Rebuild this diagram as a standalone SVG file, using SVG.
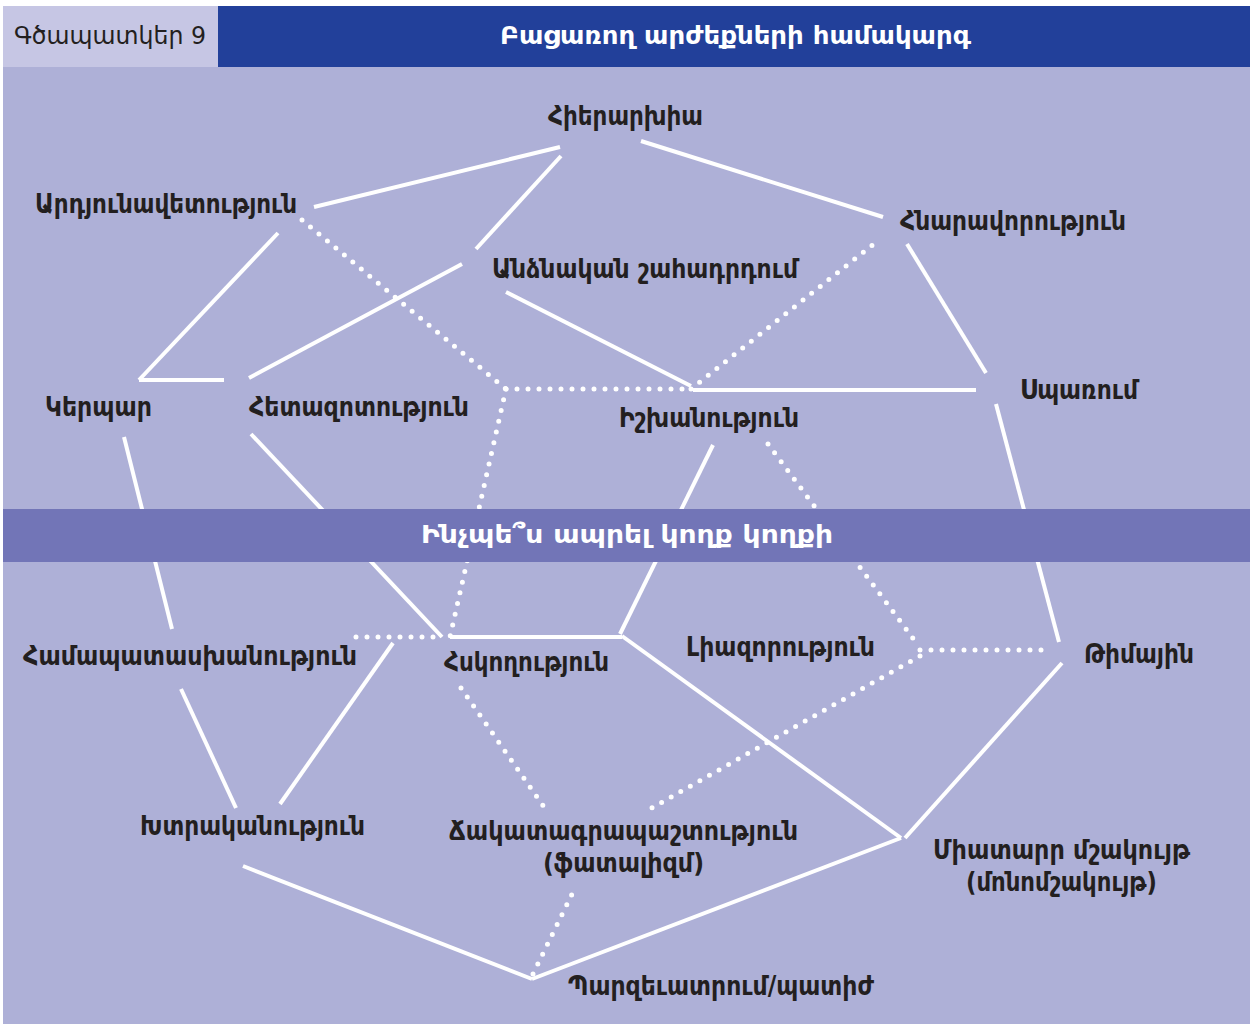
<svg xmlns="http://www.w3.org/2000/svg" width="1250" height="1026" viewBox="0 0 1250 1026">
<style>
.s{stroke:#fff;stroke-width:4;fill:none}
.d{stroke:#fff;stroke-width:5;fill:none;stroke-linecap:round;stroke-dasharray:0 11}
.t{font-family:"DejaVu Sans Condensed","DejaVu Sans",sans-serif;font-weight:bold;font-size:26px;fill:#231F20}
.w{font-family:"DejaVu Sans Condensed","DejaVu Sans",sans-serif;font-weight:bold;font-size:25px;fill:#fff}
</style>
<rect x="0" y="0" width="1250" height="1026" fill="#fff"/>
<rect x="3" y="6" width="1247" height="1018" fill="#AEB0D7"/>
<g id="connectors">
<line class="s" x1="314" y1="207" x2="560" y2="147"/>
<line class="s" x1="561" y1="156" x2="476" y2="249"/>
<line class="s" x1="278" y1="233" x2="139" y2="380"/>
<line class="s" x1="139" y1="380" x2="224" y2="380"/>
<line class="s" x1="249" y1="378" x2="462" y2="264"/>
<line class="s" x1="506" y1="292" x2="691" y2="386"/>
<line class="d" x1="302" y1="220" x2="506" y2="389"/>
<line class="d" x1="506" y1="389" x2="691" y2="389"/>
<line class="s" x1="693" y1="390" x2="976" y2="390"/>
<line class="d" x1="691" y1="389" x2="880" y2="239"/>
<line class="s" x1="641" y1="141" x2="883" y2="217"/>
<line class="s" x1="907" y1="244" x2="986" y2="373"/>
<line class="s" x1="996" y1="404" x2="1059" y2="642"/>
<line class="d" x1="920" y1="650" x2="1048" y2="650"/>
<line class="d" x1="768" y1="444" x2="918" y2="645"/>
<line class="d" x1="920" y1="656" x2="650" y2="809"/>
<line class="s" x1="1062" y1="663" x2="905" y2="838"/>
<line class="s" x1="622" y1="636" x2="901" y2="838"/>
<line class="s" x1="901" y1="838" x2="532" y2="979"/>
<line class="s" x1="243" y1="866" x2="532" y2="979"/>
<line class="d" x1="533" y1="974" x2="575" y2="888"/>
<line class="d" x1="461" y1="688" x2="544" y2="807"/>
<line class="s" x1="450" y1="637" x2="622" y2="637"/>
<line class="d" x1="356" y1="637" x2="443" y2="637"/>
<line class="s" x1="251" y1="434" x2="442" y2="637"/>
<line class="d" x1="506" y1="389" x2="450" y2="637"/>
<line class="s" x1="713" y1="445" x2="620" y2="634"/>
<line class="s" x1="124" y1="437" x2="172" y2="629"/>
<line class="s" x1="181" y1="689" x2="236" y2="808"/>
<line class="s" x1="393" y1="643" x2="280" y2="804"/>
</g>
<g id="header">
<rect x="3" y="6" width="215" height="61" fill="#C6C6E4"/>
<rect x="218" y="6" width="1032" height="61" fill="#22409A"/>
<text x="14" y="44" textLength="192" lengthAdjust="spacingAndGlyphs" style="font-family:'DejaVu Sans Condensed','DejaVu Sans',sans-serif;font-size:25px;fill:#231F20">Գծապատկեր 9</text>
<text class="w" x="500" y="44" textLength="471" lengthAdjust="spacingAndGlyphs">Բացառող արժեքների համակարգ</text>
</g>
<g id="band">
<rect x="3" y="509" width="1247" height="53" fill="#7275B7"/>
<text class="w" x="421" y="543" textLength="412" lengthAdjust="spacingAndGlyphs">Ինչպե՞ս ապրել կողք կողքի</text>
</g>
<g id="n-hierarkhia"><text class="t" x="548" y="125" textLength="155" lengthAdjust="spacingAndGlyphs">Հիերարխիա</text></g>
<g id="n-ardyunavetutyun"><text class="t" x="35" y="213" textLength="262" lengthAdjust="spacingAndGlyphs">Արդյունավետություն</text></g>
<g id="n-hnaravorutyun"><text class="t" x="900" y="230" textLength="226" lengthAdjust="spacingAndGlyphs">Հնարավորություն</text></g>
<g id="n-andznakan"><text class="t" x="492" y="278" textLength="306" lengthAdjust="spacingAndGlyphs">Անձնական շահադրդում</text></g>
<g id="n-sparum"><text class="t" x="1020" y="399" textLength="118" lengthAdjust="spacingAndGlyphs">Սպառում</text></g>
<g id="n-kerpar"><text class="t" x="45" y="416" textLength="107" lengthAdjust="spacingAndGlyphs">Կերպար</text></g>
<g id="n-hetazotutyun"><text class="t" x="249" y="416" textLength="220" lengthAdjust="spacingAndGlyphs">Հետազոտություն</text></g>
<g id="n-ishkhanutyun"><text class="t" x="619" y="427" textLength="180" lengthAdjust="spacingAndGlyphs">Իշխանություն</text></g>
<g id="n-hamapatasxanutyun"><text class="t" x="23" y="665" textLength="334" lengthAdjust="spacingAndGlyphs">Համապատասխանություն</text></g>
<g id="n-hskoghutyun"><text class="t" x="444" y="671" textLength="165" lengthAdjust="spacingAndGlyphs">Հսկողություն</text></g>
<g id="n-liazorutyun"><text class="t" x="686" y="656" textLength="189" lengthAdjust="spacingAndGlyphs">Լիազորություն</text></g>
<g id="n-timayin"><text class="t" x="1084" y="663" textLength="110" lengthAdjust="spacingAndGlyphs">Թիմային</text></g>
<g id="n-khtrakanutyun"><text class="t" x="140" y="835" textLength="225" lengthAdjust="spacingAndGlyphs">Խտրականություն</text></g>
<g id="n-chakatagrapashtutyun">
<text class="t" x="449" y="840" textLength="349" lengthAdjust="spacingAndGlyphs">Ճակատագրապաշտություն</text>
<text class="t" x="543" y="872" textLength="161" lengthAdjust="spacingAndGlyphs">(ֆատալիզմ)</text>
</g>
<g id="n-miatarr">
<text class="t" x="933" y="859" textLength="257" lengthAdjust="spacingAndGlyphs">Միատարր մշակույթ</text>
<text class="t" x="966" y="891" textLength="191" lengthAdjust="spacingAndGlyphs">(մոնոմշակույթ)</text>
</g>
<g id="n-pargevatrum"><text class="t" x="568" y="995" textLength="306" lengthAdjust="spacingAndGlyphs">Պարզեւատրում/պատիժ</text></g>
</svg>
